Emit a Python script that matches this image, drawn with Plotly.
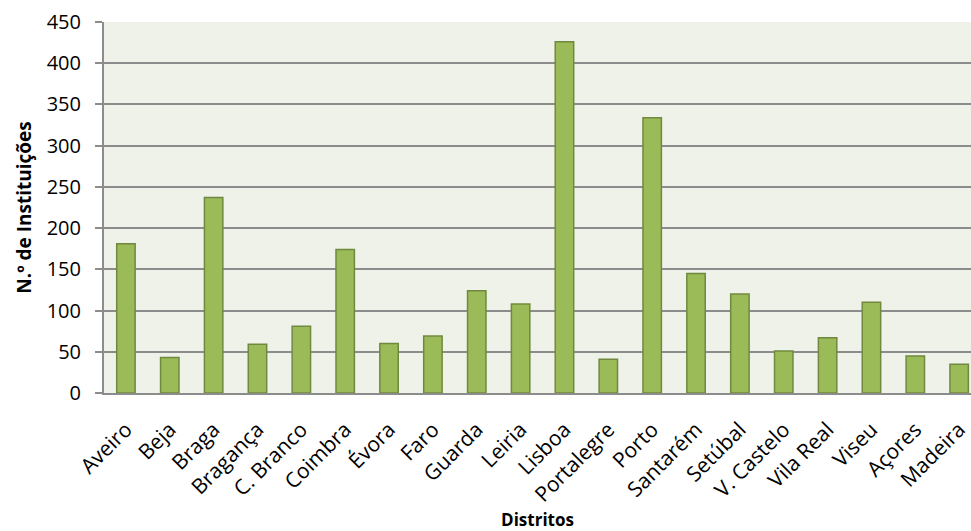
import plotly.graph_objects as go

distritos = ["Aveiro", "Beja", "Braga", "Bragança", "C. Branco", "Coimbra", "Évora", "Faro",
             "Guarda", "Leiria", "Lisboa", "Portalegre", "Porto", "Santarém", "Setúbal",
             "V. Castelo", "Vila Real", "Viseu", "Açores", "Madeira"]
instituicoes = [181, 43, 237, 59, 81, 174, 60, 69, 124, 108, 426, 41, 334, 145, 120, 51, 67, 110, 45, 35]
y_ticks = [0, 50, 100, 150, 200, 250, 300, 350, 400, 450]

FONT = "Open Sans"

fig = go.Figure()
fig.add_trace(go.Bar(
    x=list(range(len(distritos))),
    y=instituicoes,
    width=0.42,
    marker=dict(color="#9BBB59", line=dict(color="#71893F", width=1.5)),
))

fig.update_layout(
    width=971, height=531,
    margin=dict(l=104, r=0, t=22, b=138),
    paper_bgcolor="white",
    plot_bgcolor="#EEF2E8",
    showlegend=False,
    font=dict(family=FONT, color="black"),
    xaxis=dict(
        tickmode="array",
        tickvals=list(range(len(distritos))),
        ticktext=distritos,
        tickangle=-45,
        range=[-0.5, 19.27],
        showgrid=False,
        showline=True, linecolor="#8C8C8C", linewidth=2,
        ticks="", tickfont=dict(size=21, family=FONT),
        ticklabelstandoff=14,
        automargin=False,
        title=dict(text="<b>Distritos</b>", font=dict(size=17, family=FONT), standoff=14),
    ),
    yaxis=dict(
        range=[0, 450],
        tickmode="array",
        tickvals=y_ticks,
        showgrid=True, gridcolor="#8C8C8C", gridwidth=1.5,
        showline=True, linecolor="#8C8C8C", linewidth=2,
        ticks="outside", ticklen=7, tickcolor="#8C8C8C", tickwidth=1.5,
        tickfont=dict(size=20, family=FONT),
        ticklabelstandoff=10,
        zeroline=False,
        automargin=False,
        title=dict(text="<b>N.º de Instituições</b>", font=dict(size=19, family=FONT), standoff=10),
    ),
)

fig.write_html("out.html")
